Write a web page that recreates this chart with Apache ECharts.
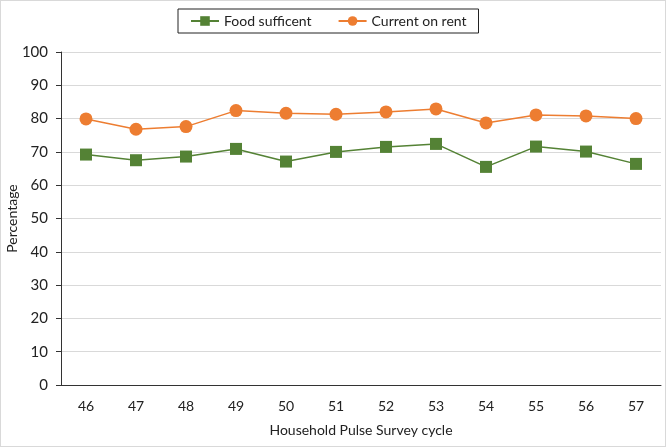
<!DOCTYPE html>
<html><head><meta charset="utf-8">
<script src="https://cdn.jsdelivr.net/npm/echarts@6/dist/echarts.min.js"></script>
<style>html,body{margin:0;padding:0;background:#fff}#c{width:666px;height:447px;box-sizing:border-box;border:1px solid #d9d9d9}</style>
</head><body><div id="c"></div>
<script>
const categories = ['46','47','48','49','50','51','52','53','54','55','56','57'];
const foodSufficient = [69.2, 67.5, 68.6, 70.9, 67.1, 70.0, 71.5, 72.4, 65.5, 71.6, 70.1, 66.4];
const currentOnRent = [79.9, 76.8, 77.6, 82.4, 81.6, 81.3, 82.0, 82.9, 78.7, 81.1, 80.8, 80.0];
const yTicks = {min: 0, max: 100, interval: 10};
const FONT = 'Lato';
const chart = echarts.init(document.getElementById('c'));
chart.setOption({
  animation: false,
  textStyle: {fontFamily: FONT},
  legend: {
    left: 177, top: 8, width: 303, height: 27,
    padding: [5, 12, 5, 12],
    borderColor: '#222', borderWidth: 1,
    itemWidth: 28, itemHeight: 12, itemGap: 26,
    textStyle: {fontSize: 14, color: '#222', fontFamily: FONT},
    data: ['Food sufficent', 'Current on rent']
  },
  grid: {left: 60, right: 4, top: 51, bottom: 61, outerBoundsMode: 'none'},
  xAxis: {
    type: 'category', data: categories, boundaryGap: true,
    name: 'Household Pulse Survey cycle', nameLocation: 'middle', nameGap: 38,
    nameMoveOverlap: false,
    nameTextStyle: {fontSize: 14, color: '#222', fontFamily: FONT},
    axisLine: {lineStyle: {color: '#333', width: 1}},
    axisTick: {alignWithLabel: true, length: 5, lineStyle: {color: '#333'}},
    axisLabel: {fontSize: 14, color: '#222', margin: 14}
  },
  yAxis: {
    type: 'value', min: yTicks.min, max: yTicks.max, interval: yTicks.interval,
    name: 'Percentage', nameLocation: 'middle', nameGap: 42,
    nameMoveOverlap: false,
    nameTextStyle: {fontSize: 14, color: '#222', fontFamily: FONT},
    axisLine: {show: true, lineStyle: {color: '#333', width: 1}},
    axisTick: {show: true, length: 5, lineStyle: {color: '#333'}},
    axisLabel: {fontSize: 15, color: '#222', margin: 13},
    splitLine: {lineStyle: {color: '#d9d9d9', width: 1}}
  },
  series: [
    {name: 'Food sufficent', type: 'line', data: foodSufficient,
     symbol: 'rect', symbolSize: 12,
     itemStyle: {color: '#548235'}, lineStyle: {color: '#548235', width: 1.5}},
    {name: 'Current on rent', type: 'line', data: currentOnRent,
     symbol: 'circle', symbolSize: 13,
     itemStyle: {color: '#ED7D31'}, lineStyle: {color: '#ED7D31', width: 1.5}}
  ]
});
</script></body></html>
